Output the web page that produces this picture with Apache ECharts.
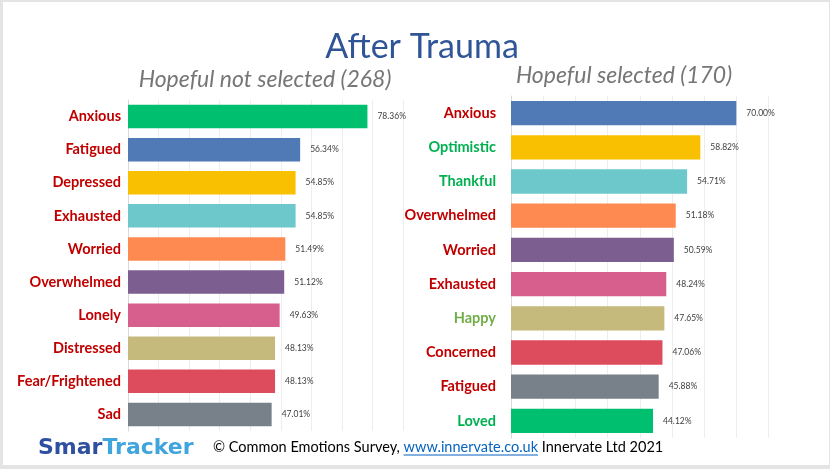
<!DOCTYPE html>
<html>
<head>
<meta charset="utf-8">
<style>
  html, body { margin: 0; padding: 0; background: #fff; }
  #chart { width: 830px; height: 469px; }
</style>
<script src="https://cdn.jsdelivr.net/npm/echarts@6/dist/echarts.min.js"></script>
</head>
<body>
<div id="chart"></div>
<script>
// left panel: Hopeful not selected (268)
const leftCategories = ['Anxious', 'Fatigued', 'Depressed', 'Exhausted', 'Worried', 'Overwhelmed', 'Lonely', 'Distressed', 'Fear/Frightened', 'Sad'];
const leftValues = [78.36, 56.34, 54.85, 54.85, 51.49, 51.12, 49.63, 48.13, 48.13, 47.01];
const leftBarColors = ['#00C06F', '#4F7AB6', '#F8C000', '#6DC8CB', '#FE8A51', '#7D5E91', '#D65F8D', '#C6B97C', '#DC4C5D', '#78818A'];
const leftLabelColors = ['#C00000', '#C00000', '#C00000', '#C00000', '#C00000', '#C00000', '#C00000', '#C00000', '#C00000', '#C00000'];

// right panel: Hopeful selected (170)
const rightCategories = ['Anxious', 'Optimistic', 'Thankful', 'Overwhelmed', 'Worried', 'Exhausted', 'Happy', 'Concerned', 'Fatigued', 'Loved'];
const rightValues = [70.00, 58.82, 54.71, 51.18, 50.59, 48.24, 47.65, 47.06, 45.88, 44.12];
const rightBarColors = ['#4F7AB6', '#F8C000', '#6DC8CB', '#FE8A51', '#7D5E91', '#D65F8D', '#C6B97C', '#DC4C5D', '#78818A', '#00C06F'];
const rightLabelColors = ['#C00000', '#00B050', '#00B050', '#C00000', '#C00000', '#C00000', '#70AD47', '#C00000', '#C00000', '#00B050'];

const mainTitle = 'After Trauma';
const leftSubtitle = 'Hopeful not selected (268)';
const rightSubtitle = 'Hopeful selected (170)';
const footerParts = ['\u00A9 Common Emotions Survey, ', 'www.innervate.co.uk', ' Innervate Ltd 2021'];

const chart = echarts.init(document.getElementById('chart'), null, { renderer: 'canvas' });

function barData(values, colors) {
  return values.map((v, i) => ({ value: v, itemStyle: { color: colors[i] } }));
}

function valueAxis(gridIndex, max) {
  return {
    type: 'value', gridIndex: gridIndex, min: 0, max: max, interval: 10,
    axisLabel: { show: false }, axisTick: { show: false }, axisLine: { show: false },
    splitLine: { lineStyle: { color: '#EDEDED', width: 1 } }
  };
}

function catAxis(gridIndex, cats, colors, margin) {
  return {
    type: 'category', gridIndex: gridIndex, data: cats, inverse: true,
    axisTick: { show: false },
    axisLine: { lineStyle: { color: '#D9D9D9' } },
    axisLabel: {
      margin: margin, fontFamily: 'Lato', fontWeight: 'bold', fontSize: 14.5,
      color: (val, idx) => colors[idx]
    }
  };
}

function barSeries(idx, values, colors) {
  return {
    type: 'bar', xAxisIndex: idx, yAxisIndex: idx,
    data: barData(values, colors),
    barCategoryGap: '29%',
    label: {
      show: true, position: 'right', distance: 10,
      fontFamily: 'Lato', fontSize: 8.5, color: '#404040',
      formatter: p => p.value.toFixed(2) + '%'
    }
  };
}

// footer pieces placed one after another, measured with the same font
const footFont = '14.5px Lato';
const ctx = document.createElement('canvas').getContext('2d');
ctx.font = footFont;
const fx0 = 213;
const fw0 = ctx.measureText(footerParts[0]).width;
const fw1 = ctx.measureText(footerParts[1]).width;

const option = {
  backgroundColor: '#E4E4E4',
  animation: false,
  grid: [
    { left: 128, top: 100, width: 275, height: 331 },
    { left: 511, top: 96, width: 257.5, height: 342 }
  ],
  xAxis: [valueAxis(0, 90), valueAxis(1, 80)],
  yAxis: [
    catAxis(0, leftCategories, leftLabelColors, 7),
    catAxis(1, rightCategories, rightLabelColors, 15)
  ],
  series: [
    barSeries(0, leftValues, leftBarColors),
    barSeries(1, rightValues, rightBarColors)
  ],
  graphic: [
    { type: 'rect', z: -10, shape: { x: 3, y: 2, width: 826, height: 463 }, style: { fill: '#FFFFFF' }, silent: true },
    { type: 'text', x: 422, y: 47, style: { text: mainTitle, font: '34px Lato', fill: '#2F5597', align: 'center', verticalAlign: 'middle' } },
    { type: 'text', x: 265, y: 80, style: { text: leftSubtitle, font: 'italic 23px Lato', fill: '#767676', align: 'center', verticalAlign: 'middle' } },
    { type: 'text', x: 624, y: 76, style: { text: rightSubtitle, font: 'italic 23px Lato', fill: '#767676', align: 'center', verticalAlign: 'middle' } },
    {
      type: 'text', x: 38, y: 448,
      style: {
        text: '{a|Smar}{b|Tracker}', verticalAlign: 'middle',
        rich: {
          a: { font: 'bold 22px "DejaVu Sans"', fill: '#2F4FA0', color: '#2F4FA0' },
          b: { font: 'bold 22px "DejaVu Sans"', fill: '#41A5DD', color: '#41A5DD' }
        }
      }
    },
    { type: 'text', x: fx0, y: 447, style: { text: footerParts[0], font: footFont, fill: '#000000', verticalAlign: 'middle' } },
    { type: 'text', x: fx0 + fw0, y: 447, style: { text: footerParts[1], font: footFont, fill: '#0563C1', verticalAlign: 'middle' } },
    { type: 'line', shape: { x1: fx0 + fw0, y1: 455, x2: fx0 + fw0 + fw1, y2: 455 }, style: { stroke: '#0563C1', lineWidth: 1 } },
    { type: 'text', x: fx0 + fw0 + fw1, y: 447, style: { text: footerParts[2], font: footFont, fill: '#000000', verticalAlign: 'middle' } }
  ]
};

chart.setOption(option);
</script>
</body>
</html>
